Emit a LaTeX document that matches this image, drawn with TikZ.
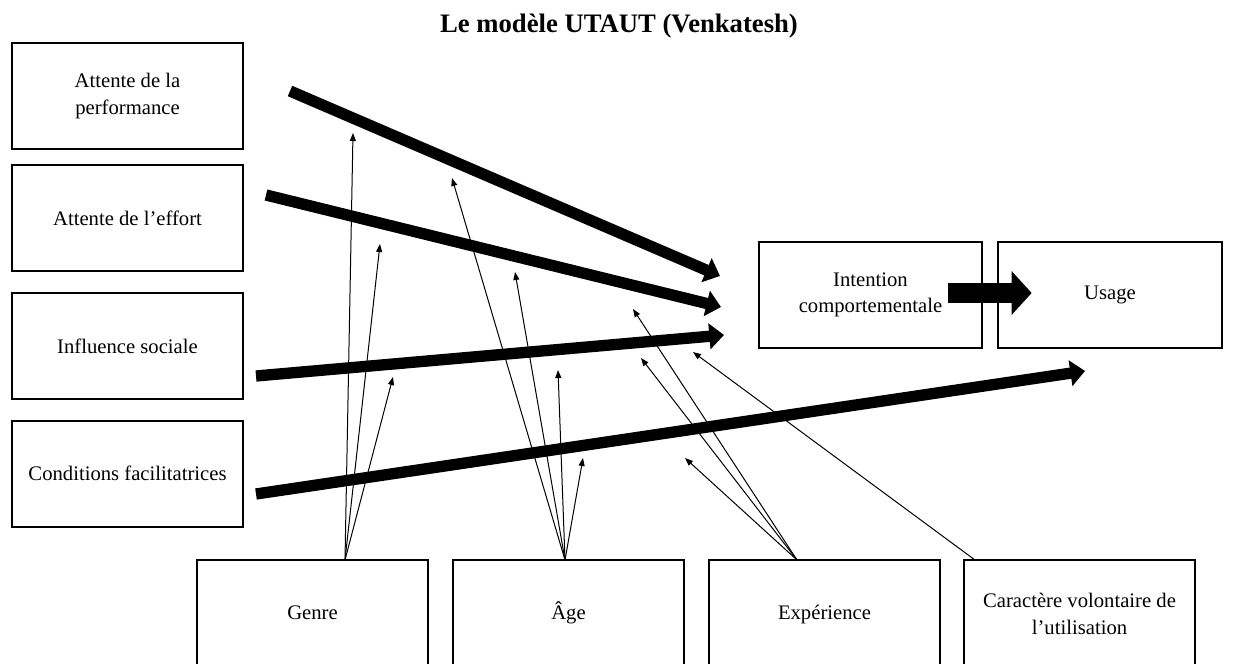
\documentclass[tikz,border=0pt]{standalone}
\usepackage{fontspec}
\setmainfont{Liberation Serif}
\usetikzlibrary{arrows.meta}

\tikzset{every picture/.style={line width=0.75pt}}
\tikzset{
  box/.style={draw, line width=1.5pt, minimum width=173pt, minimum height=79.5pt, inner sep=0.75pt, align=center, font=\fontsize{15.5}{20}\selectfont},
  one line/.style={text height=11pt, text depth=3.5pt},
  thick arrow/.style={line width=8.5pt, -{Triangle[length=11pt,width=19pt]}},
  fat arrow/.style={line width=15pt, -{Triangle[length=15pt,width=32pt]}},
  thin arrow/.style={line width=0.75pt, -{Triangle[length=6pt,width=4.5pt]}},
}

\begin{document}
\begin{tikzpicture}[x=0.75pt,y=0.75pt,yscale=-1,xscale=1]
    %set diagram left start at 0, width 1246 and height 664
    \useasboundingbox (0,0) rectangle (1246,664);

    % Title
    \node (titre) [anchor=base, font=\fontsize{20}{24}\selectfont\bfseries] at (619,32) {Le modèle UTAUT (Venkatesh)};

    % Left boxes
    \node (perf) [box] at (127.5,96) {Attente de la\\performance};
    \node (effort) [box] at (127.5,218) {Attente de l’effort};
    \node (social) [box] at (127.5,346) {Influence sociale};
    \node (condit) [box] at (127.5,473.5) {Conditions facilitatrices};

    % Right boxes
    \node (intention) [box, minimum width=167pt] at (870.5,295) {Intention\\comportementale};
    \node (usage) [box, minimum width=168pt] at (1110,295) {Usage};

    % Bottom boxes (cut by the page edge)
    \node (genre) [box, one line, minimum height=81pt] at (312.5,614) {Genre};
    \node (age) [box, one line, minimum height=81pt] at (568.5,614) {Âge};
    \node (exper) [box, one line, minimum height=81pt] at (824.5,614) {Expérience};
    \node (volont) [box, minimum height=81pt] at (1079.5,614) {Caractère volontaire de\\l’utilisation};

    % Ends of the thick arrows
    \coordinate (perf-s) at (290,91);
    \coordinate (perf-t) at (720,276);
    \coordinate (effort-s) at (266,195);
    \coordinate (effort-t) at (721,307);
    \coordinate (social-s) at (256,376);
    \coordinate (social-t) at (724,335);
    \coordinate (condit-s) at (256,494);
    \coordinate (condit-t) at (1085,371);

    % Thick arrows
    \draw [thick arrow] (perf-s) -- (perf-t);
    \draw [thick arrow] (effort-s) -- (effort-t);
    \draw [thick arrow] (social-s) -- (social-t);
    \draw [thick arrow] (condit-s) -- (condit-t);

    % Intention -> Usage
    \draw [fat arrow] ([xshift=-26pt,yshift=-1.5pt]intention.east) -- ([xshift=26pt,yshift=-1.5pt]usage.west);

    % Moderators: origins on the box tops
    \coordinate (genre-o) at (345,560);
    \coordinate (age-o) at (565,560);
    \coordinate (exper-o) at (797,560);
    \coordinate (volont-o) at (975,560);

    % Moderators: arrow tips
    \coordinate (g1) at (353,133);
    \coordinate (g2) at (380,244);
    \coordinate (g3) at (393,377);
    \coordinate (a1) at (452,178);
    \coordinate (a2) at (515,272);
    \coordinate (a3) at (558,370);
    \coordinate (a4) at (583,458);
    \coordinate (e1) at (633,309);
    \coordinate (e2) at (641,358);
    \coordinate (e3) at (685,458);
    \coordinate (v1) at (693,352);

    % Thin arrows
    \draw [thin arrow] (genre-o) -- (g1);
    \draw [thin arrow] (genre-o) -- (g2);
    \draw [thin arrow] (genre-o) -- (g3);
    \draw [thin arrow] (age-o) -- (a1);
    \draw [thin arrow] (age-o) -- (a2);
    \draw [thin arrow] (age-o) -- (a3);
    \draw [thin arrow] (age-o) -- (a4);
    \draw [thin arrow] (exper-o) -- (e1);
    \draw [thin arrow] (exper-o) -- (e2);
    \draw [thin arrow] (exper-o) -- (e3);
    \draw [thin arrow] (volont-o) -- (v1);

\end{tikzpicture}
\end{document}
